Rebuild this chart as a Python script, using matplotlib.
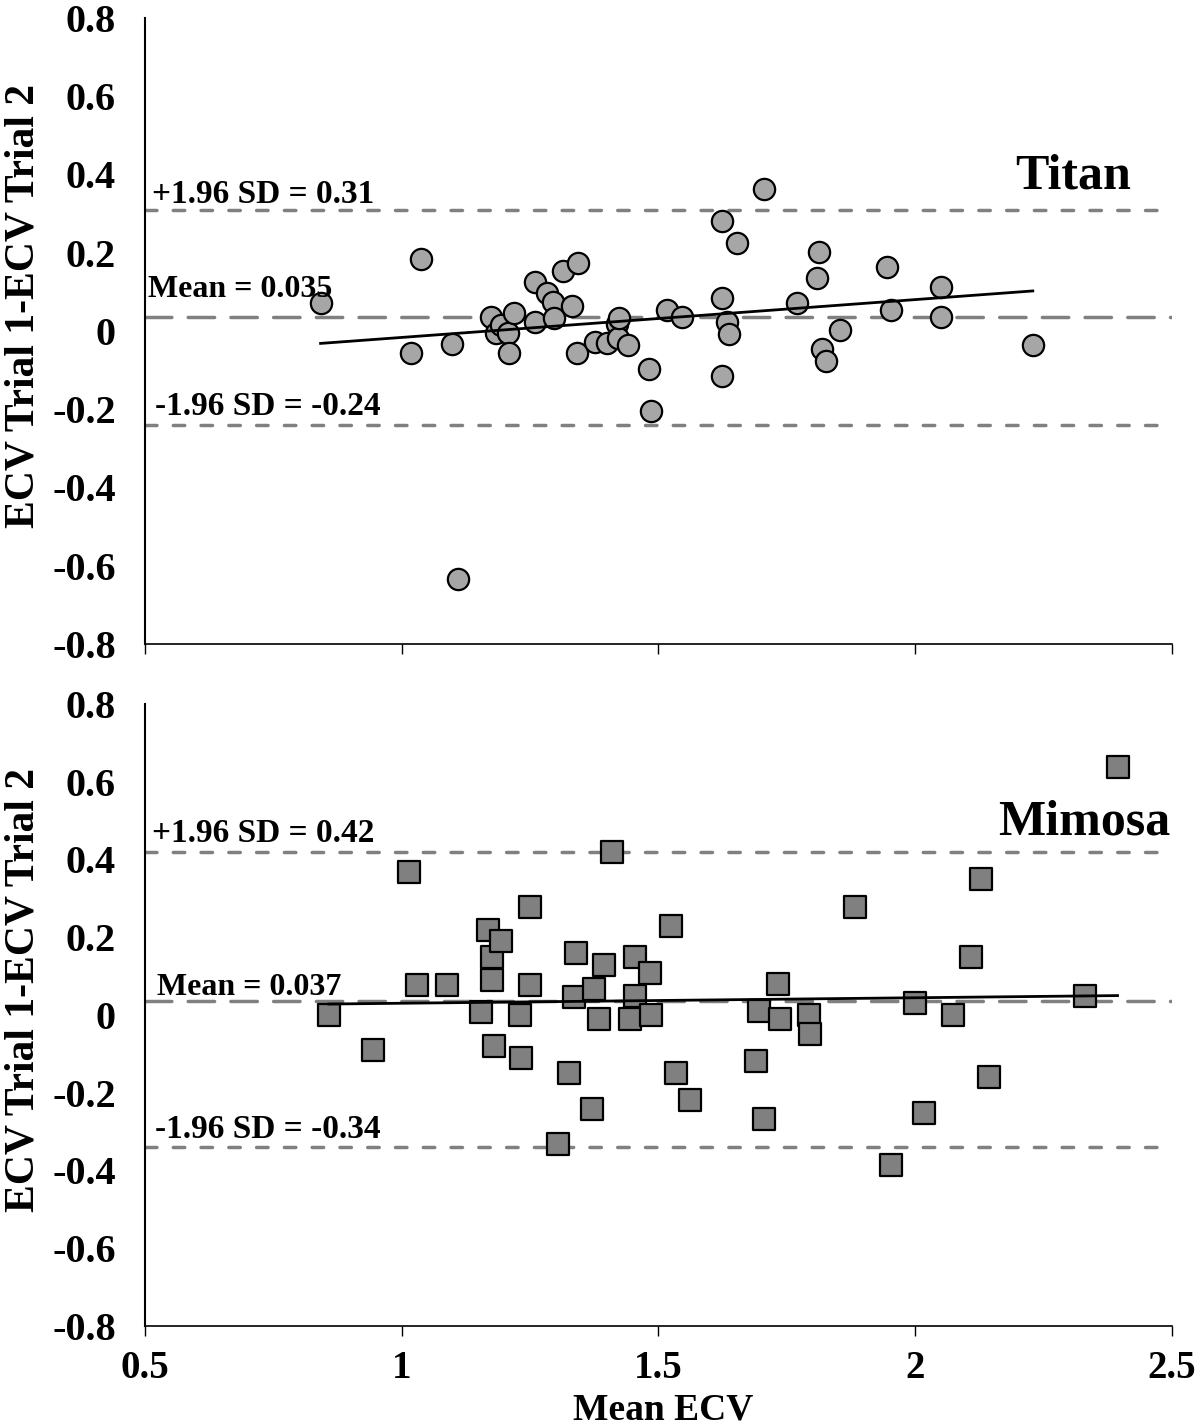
import numpy as np
import matplotlib
matplotlib.use("Agg")
import matplotlib.pyplot as plt

plt.rcParams['font.family'] = ['Liberation Serif', 'DejaVu Serif']
plt.rcParams['font.weight'] = 'bold'

# Titan: mean ECV vs difference between trials
titan_mean = [0.842, 1.019, 1.038, 1.098, 1.109, 1.173, 1.184, 1.194, 1.207, 1.209,
              1.218, 1.259, 1.259, 1.283, 1.294, 1.296, 1.315, 1.331, 1.341, 1.344,
              1.376, 1.400, 1.419, 1.422, 1.424, 1.440, 1.482, 1.486, 1.517, 1.546,
              1.623, 1.623, 1.623, 1.633, 1.637, 1.653, 1.705, 1.769, 1.809, 1.813,
              1.819, 1.827, 1.854, 1.945, 1.952, 2.051, 2.051, 2.229]
titan_diff = [0.072, -0.056, 0.184, -0.034, -0.633, 0.036, -0.004, 0.015, -0.006, -0.056,
              0.047, 0.024, 0.126, 0.096, 0.075, 0.032, 0.152, 0.064, -0.056, 0.173,
              -0.028, -0.032, 0.019, -0.019, 0.032, -0.036, -0.098, -0.204, 0.053, 0.035,
              0.282, 0.083, -0.116, 0.024, -0.008, 0.224, 0.362, 0.072, 0.135, 0.203,
              -0.045, -0.076, 0.002, 0.163, 0.053, 0.113, 0.035, -0.036]

# Mimosa
mimosa_mean = [0.858, 0.944, 1.014, 1.029, 1.088, 1.155, 1.169, 1.175, 1.175, 1.179,
               1.194, 1.230, 1.233, 1.249, 1.249, 1.304, 1.325, 1.335, 1.340, 1.370,
               1.374, 1.384, 1.394, 1.409, 1.444, 1.455, 1.455, 1.484, 1.485, 1.525,
               1.535, 1.561, 1.690, 1.696, 1.705, 1.732, 1.737, 1.793, 1.795, 1.883,
               1.953, 1.999, 2.018, 2.074, 2.109, 2.128, 2.143, 2.330, 2.394]
mimosa_diff = [0.000, -0.090, 0.367, 0.078, 0.078, 0.008, 0.219, 0.149, 0.091, -0.080,
               0.190, 0.000, -0.111, 0.277, 0.078, -0.331, -0.150, 0.047, 0.159, -0.241,
               0.068, -0.011, 0.128, 0.418, -0.011, 0.149, 0.048, 0.109, 0.000, 0.229,
               -0.150, -0.220, -0.118, 0.011, -0.268, 0.079, -0.011, 0.000, -0.049, 0.277,
               -0.387, 0.030, -0.251, 0.000, 0.149, 0.350, -0.160, 0.048, 0.638]

# limits of agreement (upper, mean, lower)
titan_loa = [0.31, 0.035, -0.24]
titan_loa_text = ["+1.96 SD = 0.31", "Mean = 0.035", "-1.96 SD = -0.24"]
mimosa_loa = [0.42, 0.037, -0.34]
mimosa_loa_text = ["+1.96 SD = 0.42", "Mean = 0.037", "-1.96 SD = -0.34"]

xticks = [0.5, 1, 1.5, 2, 2.5]
xticklabels = ["0.5", "1", "1.5", "2", "2.5"]
yticks = [-0.8, -0.6, -0.4, -0.2, 0, 0.2, 0.4, 0.6, 0.8]
yticklabels = ["-0.8", "-0.6", "-0.4", "-0.2", "0", "0.2", "0.4", "0.6", "0.8"]

GREY = '#808080'


def draw_panel(ax, x, y, loa, loa_text, name, marker, face, size, label_pos, name_pos, show_x):
    lw = 2.5
    for i, val in enumerate(loa):
        if i == 1:
            dashes = (7.6, 4.7)
        else:
            dashes = (3.3, 4.7)
        ax.axhline(val, color=GREY, lw=lw, dashes=dashes, dash_capstyle='round', zorder=1)

    ax.scatter(x, y, s=size, marker=marker, facecolor=face, edgecolor='black',
               linewidth=1.6, zorder=3)

    # least squares trend over the data range
    k, b = np.polyfit(x, y, 1)
    xs = np.array([min(x), max(x)])
    ax.plot(xs, k * xs + b, color='black', lw=2, zorder=4)

    for (tx, ty), txt in zip(label_pos, loa_text):
        fs = 23 if txt.startswith("Mean") else 24
        ax.text(tx, ty, txt, fontsize=fs, fontweight='bold', va='baseline', ha='left', zorder=5)
    ax.text(name_pos[0], name_pos[1], name, fontsize=36, fontweight='bold',
            ha='right', va='baseline')

    ax.set_xlim(0.5, 2.5)
    ax.set_ylim(-0.8, 0.8)
    ax.set_xticks(xticks)
    ax.set_yticks(yticks)
    ax.set_yticklabels(yticklabels, fontsize=29, fontweight='bold')
    ax.tick_params(axis='y', length=0, pad=21)
    ax.tick_params(axis='x', direction='out', length=7, width=1, pad=10)
    if show_x:
        ax.set_xticklabels(xticklabels, fontsize=28, fontweight='bold')
    else:
        ax.set_xticklabels([])
    for sp in ['top', 'right']:
        ax.spines[sp].set_visible(False)
    ax.spines['left'].set_linewidth(1.5)
    ax.spines['bottom'].set_linewidth(1.2)
    ax.set_ylabel("ECV Trial 1-ECV Trial 2", fontsize=30, fontweight='bold')


fig = plt.figure(figsize=(12.02, 14.25), dpi=100)
ax1 = fig.add_axes([0.1206, 0.5481, 0.8544, 0.4393])
ax2 = fig.add_axes([0.1206, 0.0695, 0.8544, 0.4365])

draw_panel(ax1, titan_mean, titan_diff, titan_loa, titan_loa_text, "Titan", 'o', '#a6a6a6', 235,
           [(0.514, 0.327), (0.506, 0.087), (0.519, -0.215)], (2.42, 0.363), False)
draw_panel(ax2, mimosa_mean, mimosa_diff, mimosa_loa, mimosa_loa_text, "Mimosa", 's', '#808080', 255,
           [(0.514, 0.445), (0.523, 0.051), (0.519, -0.316)], (2.496, 0.463), True)

ax1.yaxis.set_label_coords(-0.100, 0.54)
ax2.yaxis.set_label_coords(-0.100, 0.54)
ax2.set_xlabel("Mean ECV", fontsize=27, fontweight='bold')
ax2.xaxis.set_label_coords(0.505, -0.107)

fig.savefig("out.png", dpi=100)
